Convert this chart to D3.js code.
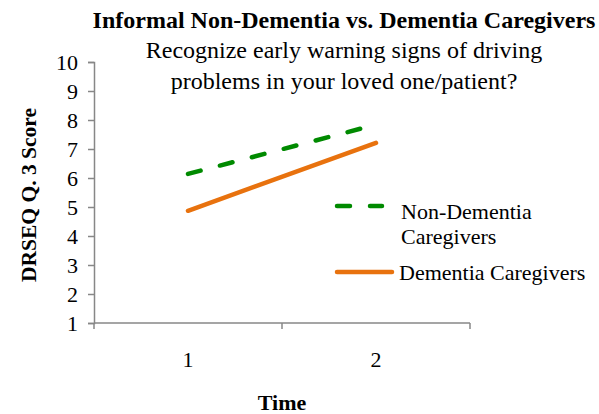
<!DOCTYPE html>
<html>
<head>
<meta charset="utf-8">
<script src="https://cdn.jsdelivr.net/npm/d3@7/dist/d3.min.js"></script>
<style>
  html, body { margin: 0; padding: 0; background: #fff; }
  svg { display: block; font-family: "Liberation Serif", "Times New Roman", serif; }
</style>
</head>
<body>
<div id="chart"></div>
<script>
// Time points on the category axis
const times = ["1", "2"];
// Mean DRSEQ Q.3 scores per group
const nonDementia = [6.14, 7.84];
const dementia = [4.87, 7.21];
// Y axis tick values
const yTicks = [1, 2, 3, 4, 5, 6, 7, 8, 9, 10];

const seriesNames = ["Non-Dementia Caregivers", "Dementia Caregivers"];

const W = 599, H = 414;
const margin = { left: 94, right: 129, top: 62, bottom: 91 };
const innerW = W - margin.left - margin.right;
const innerH = H - margin.top - margin.bottom;
const FONT = "Liberation Serif, Times New Roman, serif";

const svg = d3.select("#chart").append("svg")
  .attr("width", W).attr("height", H);

const g = svg.append("g").attr("transform", `translate(${margin.left},${margin.top})`);

const x = d3.scaleBand().domain(times).range([0, innerW]);
const y = d3.scaleLinear().domain([1, 10]).range([innerH, 0]);

const axisColor = "#878787";

// Y axis
const yAxis = g.append("g")
  .call(d3.axisLeft(y).tickValues(yTicks).tickSize(6).tickPadding(10).tickFormat(d3.format("d")));
yAxis.attr("font-family", FONT).attr("font-size", 22);
yAxis.select(".domain").attr("stroke", axisColor).attr("stroke-width", 1.5);
yAxis.selectAll(".tick line").attr("stroke", axisColor).attr("stroke-width", 1.5);
yAxis.selectAll(".tick text").attr("fill", "#000").attr("dy", "0.34em");

// X axis: boundary ticks between categories, labels at category centres
const xAxisG = g.append("g").attr("transform", `translate(0,${innerH})`);
xAxisG.append("line")
  .attr("x1", 0).attr("x2", innerW).attr("y1", 0).attr("y2", 0)
  .attr("stroke", axisColor).attr("stroke-width", 1.5);
const boundaries = times.map(t => x(t) + x.bandwidth()).concat([0]);
xAxisG.selectAll("line.tk").data(boundaries).join("line")
  .attr("class", "tk")
  .attr("x1", d => d).attr("x2", d => d).attr("y1", 0).attr("y2", 6)
  .attr("stroke", axisColor).attr("stroke-width", 1.5);
xAxisG.selectAll("text.xl").data(times).join("text")
  .attr("class", "xl")
  .attr("x", d => x(d) + x.bandwidth() / 2)
  .attr("y", 44)
  .attr("text-anchor", "middle")
  .style("font-size", "22px")
  .text(d => d);

// Lines
const line = d3.line()
  .x((d, i) => x(times[i]) + x.bandwidth() / 2)
  .y(d => y(d));

const green = "#008a00";
const orange = "#e8720e";

g.append("path").datum(dementia)
  .attr("d", line).attr("fill", "none")
  .attr("stroke", orange).attr("stroke-width", 4.5)
  .attr("stroke-linecap", "round");

g.append("path").datum(nonDementia)
  .attr("d", line).attr("fill", "none")
  .attr("stroke", green).attr("stroke-width", 4.5)
  .attr("stroke-linecap", "round")
  .attr("stroke-dasharray", "13,20");

// Legend
const legend = svg.append("g").style("font-size", "22px");
legend.append("line")
  .attr("x1", 337).attr("x2", 382).attr("y1", 206).attr("y2", 206)
  .attr("stroke", green).attr("stroke-width", 4.5)
  .attr("stroke-linecap", "round").attr("stroke-dasharray", "13,20");
legend.append("text").attr("x", 401).attr("y", 219).text("Non-Dementia");
legend.append("text").attr("x", 401).attr("y", 244).text("Caregivers");
legend.append("line")
  .attr("x1", 337).attr("x2", 392).attr("y1", 272).attr("y2", 272)
  .attr("stroke", orange).attr("stroke-width", 4.5)
  .attr("stroke-linecap", "round");
legend.append("text").attr("x", 399).attr("y", 280).text(seriesNames[1]);

// Titles
svg.append("text").attr("x", 344).attr("y", 28).attr("text-anchor", "middle")
  .style("font-size", "24px").style("font-weight", "bold")
  .text("Informal Non-Dementia vs. Dementia Caregivers");
svg.append("text").attr("x", 344).attr("y", 58).attr("text-anchor", "middle")
  .style("font-size", "24px")
  .text("Recognize early warning signs of driving");
svg.append("text").attr("x", 344).attr("y", 89).attr("text-anchor", "middle")
  .style("font-size", "24px")
  .text("problems in your loved one/patient?");

// Axis titles
svg.append("text")
  .attr("transform", "translate(36,195) rotate(-90)")
  .attr("text-anchor", "middle")
  .style("font-size", "21.5px").style("font-weight", "bold")
  .text("DRSEQ Q. 3 Score");
svg.append("text").attr("x", 282).attr("y", 410).attr("text-anchor", "middle")
  .style("font-size", "22px").style("font-weight", "bold")
  .text("Time");
</script>
</body>
</html>
